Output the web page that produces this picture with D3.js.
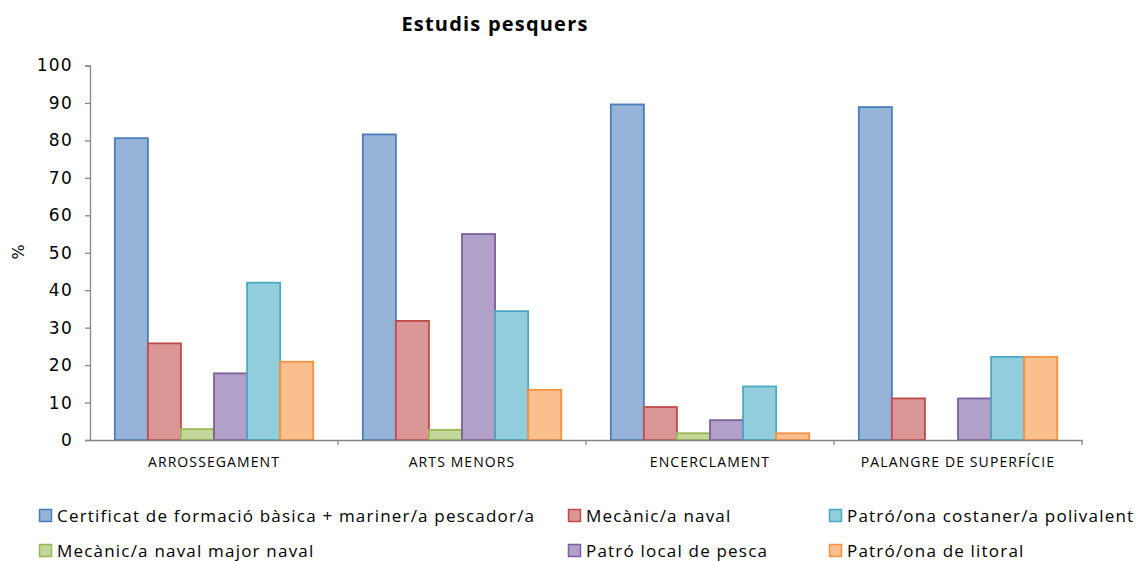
<!DOCTYPE html>
<html>
<head>
<meta charset="utf-8">
<script src="https://cdn.jsdelivr.net/npm/d3@7"></script>
<style>
  body { margin: 0; background: #fff; }
  text { font-family: "Open Sans", sans-serif; }
</style>
</head>
<body>
<script>
var width = 1140,
    height = 561;

// data
var categories = ["ARROSSEGAMENT", "ARTS MENORS", "ENCERCLAMENT", "PALANGRE DE SUPERFÍCIE"];
var seriesNames = [
  "Certificat de formació bàsica + mariner/a pescador/a",
  "Mecànic/a naval",
  "Mecànic/a naval major naval",
  "Patró local de pesca",
  "Patró/ona costaner/a polivalent",
  "Patró/ona de litoral"
];
var certificat   = [80.6, 81.6, 89.6, 88.9];
var mecanic      = [25.8, 31.8, 8.8, 11.1];
var mecanicMajor = [2.9, 2.7, 1.8, 0];
var patroLocal   = [17.8, 55.0, 5.3, 11.1];
var costaner     = [42.0, 34.4, 14.3, 22.2];
var litoral      = [20.9, 13.4, 1.8, 22.2];
var yTicks = [0, 10, 20, 30, 40, 50, 60, 70, 80, 90, 100];

var values = [certificat, mecanic, mecanicMajor, patroLocal, costaner, litoral];
var fills   = ["#95b3d7", "#da9694", "#c4d79b", "#b1a0c7", "#92cddc", "#fabf8f"];
var strokes = ["#4a7ebb", "#be4b48", "#98b954", "#7d60a0", "#46aac5", "#f69240"];

var margin = { top: 65.5, right: 58, bottom: 121, left: 90 };
var w = width - margin.left - margin.right,
    h = height - margin.top - margin.bottom;

var svg = d3.select("body").append("svg")
    .attr("width", width)
    .attr("height", height);

var g = svg.append("g")
    .attr("transform", "translate(" + margin.left + "," + margin.top + ")");

var x0 = d3.scaleBand().domain(categories).range([0, w]).padding(0);
var x1 = d3.scaleBand().domain(d3.range(seriesNames.length))
    .range([x0.bandwidth() * 0.1, x0.bandwidth() * 0.9]).padding(0);
var y = d3.scaleLinear().domain([0, 100]).range([h, 0]);

// bars
var groups = g.selectAll("g.cat")
    .data(categories)
    .enter().append("g")
    .attr("class", "cat")
    .attr("transform", function(d) { return "translate(" + x0(d) + ",0)"; });

groups.selectAll("rect")
    .data(function(d, ci) {
      return values.map(function(s, si) { return { si: si, v: s[ci] }; });
    })
    .enter().append("rect")
    .filter(function(d) { return d.v > 0; })
    .attr("x", function(d) { return x1(d.si); })
    .attr("y", function(d) { return y(d.v); })
    .attr("width", x1.bandwidth())
    .attr("height", function(d) { return h - y(d.v); })
    .attr("fill", function(d) { return fills[d.si]; })
    .attr("stroke", function(d) { return strokes[d.si]; })
    .attr("stroke-width", 1.8);

// y axis
var yAxis = g.append("g")
    .call(d3.axisLeft(y).tickValues(yTicks).tickSize(5).tickPadding(12));
yAxis.select(".domain").attr("stroke", "#868686").attr("stroke-width", 1.3);
yAxis.selectAll(".tick line").attr("stroke", "#868686").attr("stroke-width", 1.3);
yAxis.selectAll(".tick text")
    .attr("fill", "#000")
    .style("font-family", "'DejaVu Sans', Verdana, sans-serif")
    .style("font-size", "17px")
    .style("letter-spacing", "1.3px");

// x axis
var xAxis = g.append("g")
    .attr("transform", "translate(0," + h + ")")
    .call(d3.axisBottom(x0).tickSize(0).tickPadding(17));
xAxis.select(".domain").attr("stroke", "#868686").attr("stroke-width", 1.3);
xAxis.selectAll(".tick text")
    .attr("fill", "#000")
    .style("font-size", "14px")
    .style("letter-spacing", "1.1px");
xAxis.selectAll("line.sep")
    .data(categories)
    .enter().append("line")
    .attr("class", "sep")
    .attr("x1", function(d) { return x0(d) + x0.bandwidth(); })
    .attr("x2", function(d) { return x0(d) + x0.bandwidth(); })
    .attr("y1", 0).attr("y2", 5)
    .attr("stroke", "#868686").attr("stroke-width", 1.3);

// y label
svg.append("text")
    .attr("transform", "translate(24,252) rotate(-90)")
    .attr("text-anchor", "middle")
    .style("font-family", "'DejaVu Sans', Verdana, sans-serif")
    .style("font-size", "16px")
    .text("%");

// title
svg.append("text")
    .attr("x", 495)
    .attr("y", 31)
    .attr("text-anchor", "middle")
    .style("font-size", "20px")
    .style("font-weight", "bold")
    .style("letter-spacing", "1.2px")
    .text("Estudis pesquers");

// legend, laid out like the original (row, column)
var legendPos = [[0, 0], [0, 1], [1, 0], [1, 1], [0, 2], [1, 2]];
var legendCols = [39, 568, 829];
var legendRows = [516, 551];

var legend = svg.selectAll("g.legend")
    .data(seriesNames)
    .enter().append("g")
    .attr("class", "legend")
    .attr("transform", function(d, i) {
      return "translate(" + legendCols[legendPos[i][1]] + "," + legendRows[legendPos[i][0]] + ")";
    });

legend.append("rect")
    .attr("x", 0.5).attr("y", -6.5)
    .attr("width", 12).attr("height", 12)
    .attr("fill", function(d, i) { return fills[i]; })
    .attr("stroke", function(d, i) { return strokes[i]; })
    .attr("stroke-width", 1.5);

legend.append("text")
    .attr("x", 18)
    .attr("y", 6)
    .style("font-size", "17px")
    .style("letter-spacing", "1.2px")
    .text(function(d) { return d; });
</script>
</body>
</html>
